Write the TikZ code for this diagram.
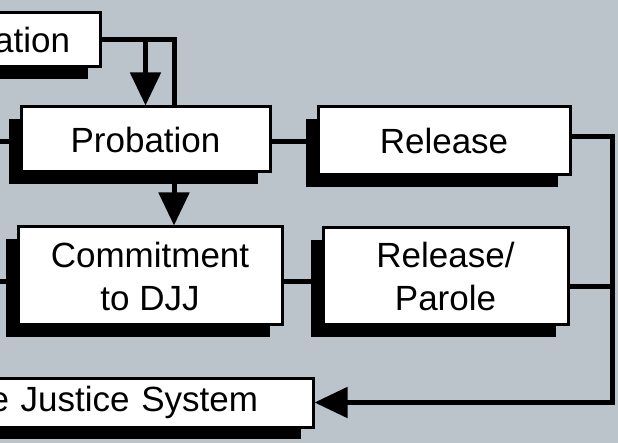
\documentclass[tikz,border=0pt]{standalone}
\usepackage{fontspec}
\setmainfont{Liberation Sans}
\usetikzlibrary{arrows.meta}
\usetikzlibrary{shadows}
\usetikzlibrary{backgrounds}
\definecolor{panel}{RGB}{187,195,203}
\tikzset{stage/.style={draw, line width=3pt, fill=white, align=center, inner sep=0pt,
  font=\fontsize{35}{43}\selectfont,
  drop shadow={shadow xshift=-12pt, shadow yshift=-12pt, opacity=1, fill=black}}}
\tikzset{link/.style={line width=5pt}}
\tikzset{flow/.style={link, -{Triangle[length=33pt, width=30pt]}}}

\begin{document}
\begin{tikzpicture}[x=1pt,y=-1pt]
  \useasboundingbox (0,0) rectangle (618,443);
  % boxes cut off by the left edge
  \node[stage, text width=110pt, inner xsep=30pt, align=right, minimum height=54pt] (adj) at (15,40) {ation};
  \node[stage, text width=302pt, inner xsep=55pt, align=right, minimum height=49pt] (just) at (107,402.5) {e Justice System};
  \foreach \x/\y/\w/\h/\name/\lab in {
    145.5/139.5/249/65/prob/Probation,
    444/141/252/68/rel/Release,
    150/276/264/98/comm/{Commitment\\to DJJ},
    445.5/276.5/245/97/relp/{Release/\\Parole}%
  } {
    \node[stage, minimum width=\w pt, minimum height=\h pt] (\name) at (\x,\y) {\lab};
  }
  \coordinate (loop) at (612,402.5);
  \coordinate (out1) at (0,142);
  \coordinate (out2) at (0,282);
  \begin{scope}[on background layer]
    \fill[panel] (0,0) rectangle (618,443);
    \draw[flow] (adj.east) -| (prob.north);
    \draw[flow] (adj.east) -| ([xshift=24pt]comm.north);
    \draw[link] (prob.west |- out1) -- (out1);
    \draw[link] (prob.east |- out1) -- (out1 -| rel.west);
    \draw[link] (comm.west |- out2) -- (out2);
    \draw[link] (comm.east |- out2) -- (out2 -| relp.west);
    \draw[link] ([yshift=-10pt]relp.east) -- ([yshift=-10pt]relp.east -| loop);
    \draw[flow] ([yshift=4pt]rel.east) -| (loop) -- (just.east);
  \end{scope}
\end{tikzpicture}
\end{document}
